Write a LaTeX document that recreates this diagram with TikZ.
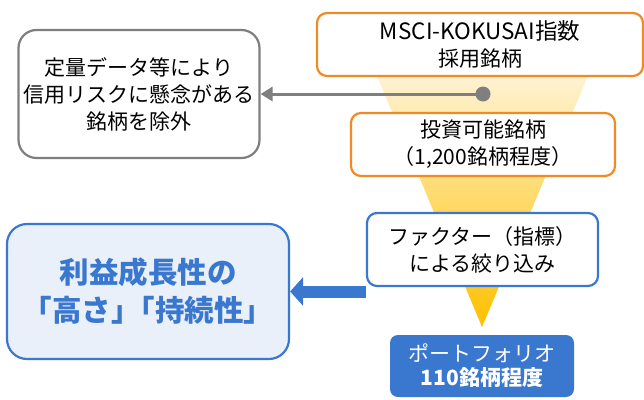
\documentclass[tikz,border=0pt]{standalone}
\usepackage{fontspec}
\setmainfont{Noto Sans CJK JP}
\usetikzlibrary{arrows.meta}
\definecolor{orangeline}{HTML}{F08A24}
\definecolor{grayline}{HTML}{7F7F7F}
\definecolor{blueline}{HTML}{3A78CF}
\definecolor{bluefill}{HTML}{EAF0FA}
\definecolor{funneltop}{HTML}{FEF6E2}
\definecolor{funnelbot}{HTML}{FFC000}
\tikzset{
  box/.style={rounded corners=10pt, line width=2.2pt, align=center, inner sep=0pt,
    font=\fontsize{21}{27}\selectfont, text=black},
  orangebox/.style={box, draw=orangeline, fill=white},
  graybox/.style={box, draw=grayline, fill=white, rounded corners=18pt},
  bluebox/.style={box, draw=blueline, fill=white},
  resultbox/.style={box, draw=blueline, fill=bluefill, rounded corners=20pt,
    line width=2.2pt, text=blueline, font=\fontsize{29.5}{38}\selectfont\bfseries},
  portbox/.style={box, draw=none, fill=blueline, rounded corners=8pt, text=white,
    font=\fontsize{21}{24}\selectfont}
}
\begin{document}
\begin{tikzpicture}[x=1pt,y=-1pt]
\useasboundingbox (0,0) rectangle (644,399);
% funnel
\shade[top color=funneltop, bottom color=funnelbot] (369,57) -- (596,57) -- (482,327) -- cycle;
% nodes
\node[orangebox, minimum width=326pt, minimum height=63pt] (msci) at (480,44.5)
  {\fontsize{22.5}{27}\selectfont MSCI-KOKUSAI指数\\採用銘柄};
\node[graybox, minimum width=241pt, minimum height=128pt] (excl) at (139,94)
  {定量データ等により\\信用リスクに懸念がある\\銘柄を除外};
\node[orangebox, minimum width=264pt, minimum height=63pt] (inv) at (483,144.5)
  {投資可能銘柄\\（1,200銘柄程度）};
\node[bluebox, minimum width=231pt, minimum height=73pt] (fac) at (482.5,249.5)
  {ファクター（指標）\\による絞り込み};
\node[portbox, minimum width=184pt, minimum height=62pt] (port) at (482,366)
  {ポートフォリオ\\{\bfseries 110銘柄程度}};
\node[resultbox, minimum width=282pt, minimum height=135pt] (res) at (148,291.5)
  {利益成長性の\\「高さ」\kern-0.5em「持続性」};
% connectors
\coordinate (dot) at (483,94);
\draw[grayline, line width=3pt, -{Triangle[length=12pt,width=14pt]}] (dot) -- (excl.east |- dot);
\fill[grayline] (dot) circle (7.5pt);
\draw[blueline, line width=12pt, -{Triangle[length=13pt,width=28pt]}] (fac.west |- res.east) -- (res.east);
\end{tikzpicture}
\end{document}
